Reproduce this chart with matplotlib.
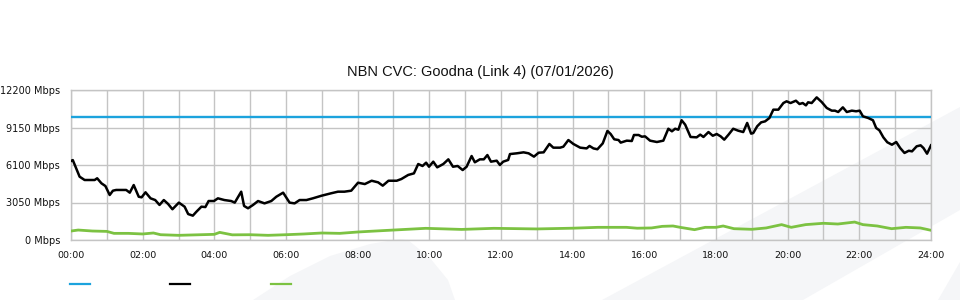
import matplotlib
matplotlib.use("Agg")
import matplotlib.pyplot as plt
from matplotlib.patches import Polygon
from matplotlib.lines import Line2D

# --- data ---
title = "NBN CVC: Goodna (Link 4) (07/01/2026)"
capacity = 10000  # Mbps, blue line

traffic_hours = [
    0.00, 0.05, 0.24, 0.38, 0.66, 0.73, 0.85, 0.96, 1.08, 1.17, 1.26, 1.54, 1.64, 1.75, 1.89, 1.97,
    2.08, 2.22, 2.35, 2.47, 2.59, 2.71, 2.83, 3.01, 3.17, 3.27, 3.40, 3.50, 3.64, 3.75, 3.84, 3.99,
    4.10, 4.28, 4.47, 4.57, 4.75, 4.83, 4.94, 5.08, 5.22, 5.40, 5.59, 5.73, 5.92, 6.10, 6.24, 6.38,
    6.57, 6.75, 6.99, 7.26, 7.45, 7.63, 7.82, 8.01, 8.20, 8.39, 8.57, 8.70, 8.86, 9.09, 9.22, 9.41,
    9.57, 9.69, 9.81, 9.91, 9.99, 10.11, 10.22, 10.39, 10.53, 10.66, 10.79, 10.93, 11.04, 11.18,
    11.27, 11.41, 11.52, 11.62, 11.72, 11.88, 11.97, 12.06, 12.20, 12.25, 12.44, 12.63, 12.77,
    12.92, 13.05, 13.19, 13.35, 13.46, 13.65, 13.74, 13.88, 14.02, 14.21, 14.39, 14.47, 14.58,
    14.69, 14.84, 14.97, 15.06, 15.16, 15.28, 15.34, 15.51, 15.65, 15.71, 15.84, 15.93, 16.02,
    16.16, 16.35, 16.53, 16.67, 16.77, 16.86, 16.95, 17.04, 17.14, 17.29, 17.46, 17.56, 17.65,
    17.79, 17.91, 18.02, 18.13, 18.23, 18.35, 18.48, 18.62, 18.76, 18.87, 18.98, 19.04, 19.15,
    19.26, 19.37, 19.49, 19.60, 19.74, 19.88, 19.97, 20.08, 20.23, 20.33, 20.42, 20.51, 20.57,
    20.67, 20.81, 20.95, 21.09, 21.23, 21.32, 21.41, 21.54, 21.65, 21.79, 21.91, 22.01, 22.10,
    22.25, 22.38, 22.47, 22.56, 22.67, 22.78, 22.91, 23.03, 23.14, 23.26, 23.38, 23.47, 23.60,
    23.71, 23.79, 23.89, 24.00,
]
traffic_mbps = [
    6425, 6500, 5150, 4880, 4880, 5020, 4610, 4390, 3660, 4010, 4070, 4070, 3850, 4470, 3520, 3470,
    3880, 3390, 3250, 2850, 3250, 2930, 2500, 3040, 2710, 2110, 1980, 2300, 2710, 2680, 3170, 3170,
    3390, 3250, 3170, 3040, 3930, 2770, 2580, 2850, 3170, 2980, 3170, 3520, 3850, 3040, 2980, 3250,
    3250, 3390, 3600, 3800, 3930, 3930, 4010, 4660, 4550, 4820, 4690, 4420, 4820, 4820, 4960, 5290,
    5420, 6180, 6020, 6290, 5960, 6370, 5910, 6180, 6560, 5960, 6020, 5690, 5960, 6830,
    6320, 6560, 6560, 6910, 6370, 6450, 6100, 6370, 6510, 6990, 7050, 7130, 7050,
    6780, 7100, 7130, 7810, 7510, 7510, 7590, 8130, 7810, 7510, 7450, 7650, 7450,
    7380, 7860, 8870, 8620, 8190, 8130, 7920, 8080, 8050, 8540, 8540, 8400, 8430,
    8080, 7970, 8080, 9050, 8840, 9050, 8970, 9740, 9380, 8380, 8350, 8570, 8380,
    8780, 8480, 8620, 8430, 8160, 8570, 9050, 8890, 8780, 9520, 8650, 8700, 9250,
    9570, 9650, 9920, 10600, 10600, 11140, 11280, 11140, 11330, 11060, 11140, 10950, 11200,
    11140, 11600, 11220, 10740, 10520, 10520, 10410, 10790, 10410, 10520, 10470, 10520, 10060,
    9920, 9740, 9110, 8920, 8350, 7950, 7750, 7970, 7480, 7080, 7260, 7210, 7620,
    7700, 7480, 7020, 7700,
]

upload_hours = [
    0.0, 0.2, 0.6, 1.0, 1.2, 1.6, 2.0, 2.3, 2.5, 3.0, 3.5, 4.0, 4.15, 4.5, 5.0, 5.5, 6.0, 6.5,
    7.0, 7.5, 8.0, 8.3, 9.0, 9.9, 10.9, 11.8, 13.0, 14.0, 14.7, 15.5, 15.8, 16.2, 16.5, 16.8,
    17.0, 17.4, 17.7, 18.0, 18.2, 18.5, 19.0, 19.4, 19.83, 20.1, 20.5, 21.0, 21.4, 21.87, 22.1,
    22.5, 22.9, 23.3, 23.7, 24.0,
]
upload_mbps = [
    730, 810, 730, 700, 540, 540, 490, 570, 430, 380, 420, 460, 620, 420, 430, 380, 430, 490,
    570, 540, 650, 700, 810, 950, 860, 950, 900, 960, 1030, 1030, 960, 980, 1110, 1140,
    1030, 840, 1030, 1030, 1140, 920, 870, 980, 1250, 1030, 1250, 1360, 1300, 1460, 1250,
    1140, 920, 1030, 980, 790,
]

y_ticks = [0, 3050, 6100, 9150, 12200]
x_ticks = list(range(0, 25, 2))
x_labels = [f"{h:02d}:00" for h in x_ticks]

blue = "#1ca3dd"
green = "#7cc242"
grid_col = "#c4c4c4"

fig = plt.figure(figsize=(9.6, 3.0), dpi=100)
W, H = 960, 300

# decorative light-grey background swooshes (pixel coords, y down)
def px(pts):
    return [(x / W, 1 - y / H) for x, y in pts]

bg = "#f5f6f8"
shapes = [
    [(253, 300), (290, 276), (330, 256), (370, 244), (400, 239), (408, 240),
     (430, 258), (448, 280), (455, 300)],
    [(602, 300), (960, 107), (960, 210), (803, 300)],
    [(938, 300), (960, 262), (960, 300)],
]
for s in shapes:
    fig.patches.append(Polygon(px(s), closed=True, transform=fig.transFigure,
                               facecolor=bg, edgecolor="none", zorder=-5))

ax = fig.add_axes([71 / W, 60 / H, 860 / W, 150 / H])
ax.set_facecolor("none")

ax.axhline(capacity, color=blue, lw=1.7, zorder=3)
ax.plot(traffic_hours, traffic_mbps, color="black", lw=1.8, zorder=4)
ax.plot(upload_hours, upload_mbps, color=green, lw=2.0, zorder=3)

ax.set_xlim(0, 24)
ax.set_ylim(0, 12200)
ax.set_xticks(x_ticks)
ax.set_xticklabels(x_labels)
ax.set_xticks(range(1, 24, 2), minor=True)
ax.set_yticks(y_ticks)
ax.set_yticklabels([f"{v} Mbps" for v in y_ticks])
ax.tick_params(axis="both", which="both", length=0, colors="#111111")
ax.tick_params(axis="x", labelsize=6.8, pad=8)
ax.tick_params(axis="y", labelsize=7.0, pad=8)
ax.grid(True, which="both", color=grid_col, lw=1.0, zorder=0)
ax.set_axisbelow(True)
for sp in ax.spines.values():
    sp.set_color(grid_col)
    sp.set_linewidth(1.0)

fig.text(0.5, 1 - 72 / H, title, ha="center", va="center",
         fontsize=10.5, family="Liberation Sans", color="#111111")

# legend: three short coloured strokes, no labels
handles = [Line2D([], [], color=blue, lw=1.6),
           Line2D([], [], color="black", lw=1.6),
           Line2D([], [], color=green, lw=1.6)]
fig.legend(handles, ["", "", ""], loc="center left", ncol=3, frameon=False,
           bbox_to_anchor=(70 / W, 15 / H), borderaxespad=0, borderpad=0,
           fontsize=9, handlelength=1.6, handletextpad=0, columnspacing=6.42)

fig.savefig("out.png", dpi=100)
